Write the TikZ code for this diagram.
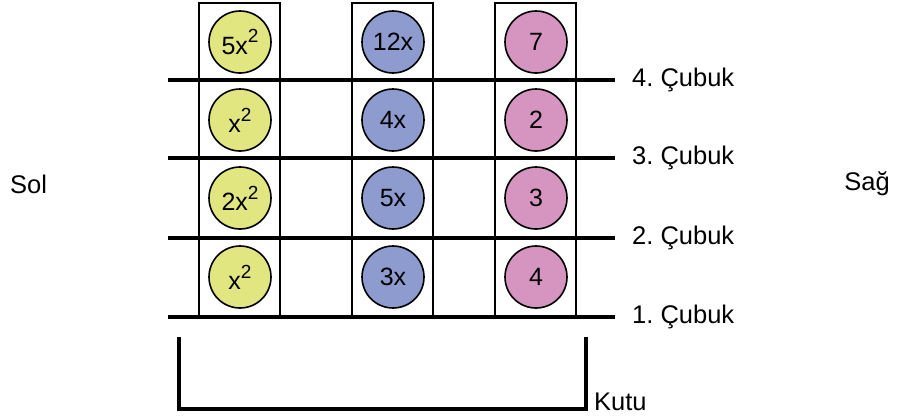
\documentclass[tikz,border=0pt]{standalone}
\usepackage{fontspec}
\setmainfont{Liberation Sans}
\frenchspacing
\begin{document}
\begin{tikzpicture}[x=1pt,y=-1pt,
  ball/.style={circle,draw=black,line width=1.6pt,minimum size=62pt,inner sep=0pt,font=\fontsize{25}{27}\selectfont},
  yball/.style={ball,fill=yfill},
  bball/.style={ball,fill=bfill},
  pball/.style={ball,fill=pfill},
  colbox/.style={draw=black,line width=1.6pt},
  bar/.style={line width=4pt},
  lbl/.style={font=\fontsize{25.5}{27}\selectfont,inner sep=0pt}
]
\definecolor{yfill}{RGB}{226,230,128}
\definecolor{bfill}{RGB}{141,155,207}
\definecolor{pfill}{RGB}{213,149,192}
\newcommand{\sq}{\raisebox{0.45em}{\fontsize{19}{20}\selectfont 2}}
\useasboundingbox (0,0) rectangle (899,418);
% column boxes
\draw[colbox] (199,3) rectangle (280,317);
\draw[colbox] (352,3) rectangle (433,317);
\draw[colbox] (495,3) rectangle (576,317);
% bars
\foreach \y/\n in {80/4,158/3,238/2,317/1}{
  \coordinate (b\n l) at (168,\y);
  \coordinate (b\n r) at (615,\y);
  \draw[bar] (b\n l) -- (b\n r);
  \node[lbl,anchor=west] (t\n) at (632,\y) {\n. Çubuk};
}
% balls
\node[yball] (y4) at (240,42) {5x\sq};
\node[yball] (y3) at (240,120) {x\sq};
\node[yball] (y2) at (240,198) {2x\sq};
\node[yball] (y1) at (240,277) {x\sq};
\node[bball] (m4) at (393,42) {12x};
\node[bball] (m3) at (393,120) {4x};
\node[bball] (m2) at (393,198) {5x};
\node[bball] (m1) at (393,277) {3x};
\node[pball] (p4) at (536,42) {7};
\node[pball] (p3) at (536,120) {2};
\node[pball] (p2) at (536,198) {3};
\node[pball] (p1) at (536,277) {4};
% bracket
\coordinate (k1) at (179,337);
\coordinate (k2) at (179,409);
\coordinate (k3) at (586,409);
\coordinate (k4) at (586,337);
\draw[line width=4pt] (k1) -- (k2) -- (k3) -- (k4);
\node[lbl,anchor=base west] (kutu) at (594,410) {Kutu};
\node[lbl,anchor=west] (sol) at (10,184) {Sol};
\node[lbl,anchor=east] (sag) at (890,184) {Sağ};
\end{tikzpicture}
\end{document}
